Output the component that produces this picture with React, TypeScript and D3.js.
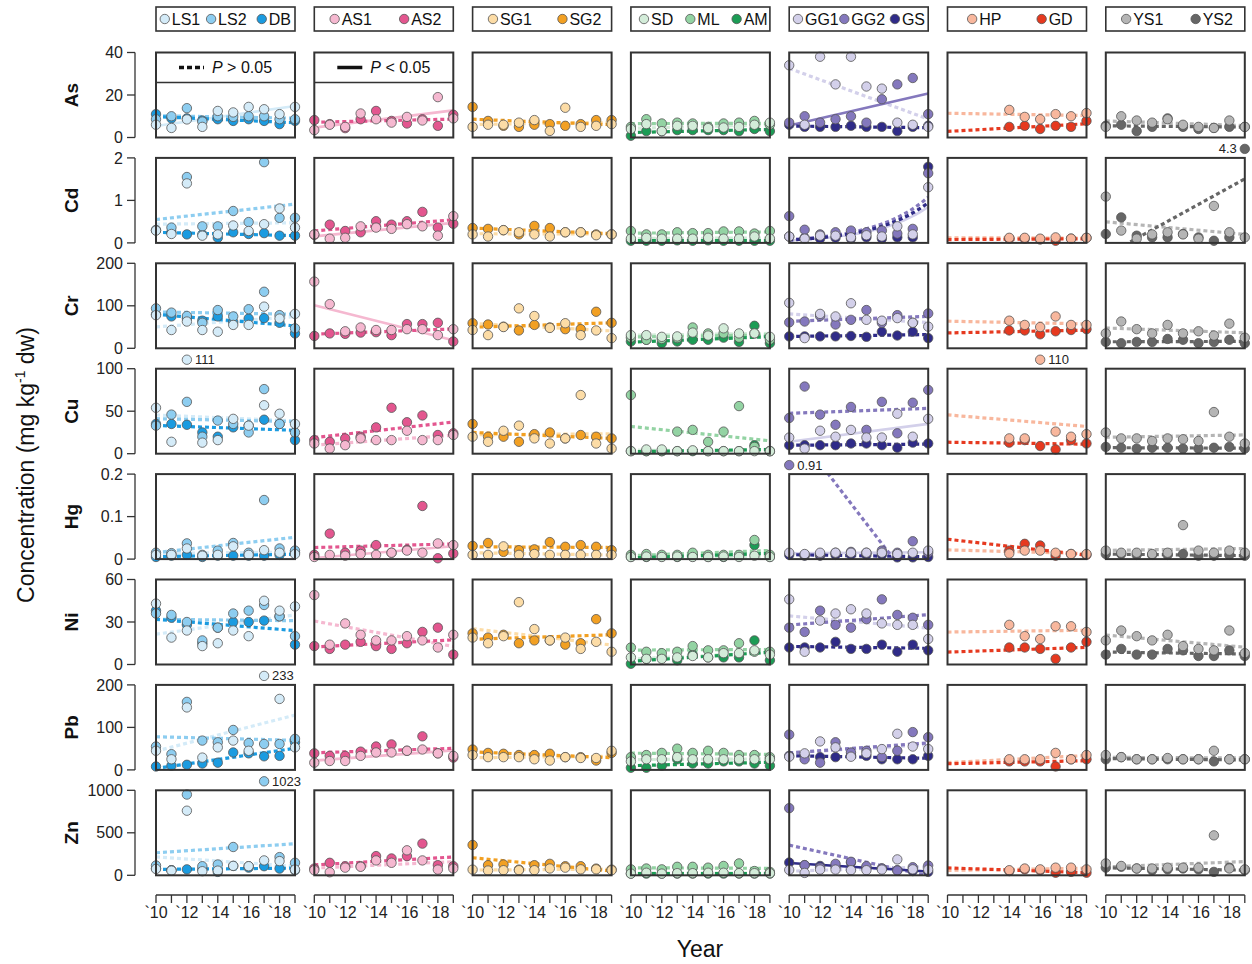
import React from 'react';
import * as d3 from 'd3';

// layout
const PW = 139;
const PH = 85;
const colLeft = (c: number) => 156 + c * 158.3;
const rowTop = (r: number) => 52.5 + r * 105.4;
const FONT = '"Liberation Sans Narrow", "Liberation Sans", Arial, sans-serif';

const years = d3.range(2010, 2020);
const xTickLabels = ['`10', '`12', '`14', '`16', '`18'];

const metals = ['As', 'Cd', 'Cr', 'Cu', 'Hg', 'Ni', 'Pb', 'Zn'];
const yMaxes = [40, 2, 200, 100, 0.2, 60, 200, 1000];
const yTickVals = [
  [0, 20, 40], [0, 1, 2], [0, 100, 200], [0, 50, 100],
  [0, 0.1, 0.2], [0, 30, 60], [0, 100, 200], [0, 500, 1000],
];

const groups = [
  ['LS1', 'LS2', 'DB'],
  ['AS1', 'AS2'],
  ['SG1', 'SG2'],
  ['SD', 'ML', 'AM'],
  ['GG1', 'GG2', 'GS'],
  ['HP', 'GD'],
  ['YS1', 'YS2'],
];

const siteColors: Record<string, string> = {
  LS1: '#d4ebf8', LS2: '#8dcdf0', DB: '#1b9be0',
  AS1: '#f5b8d0', AS2: '#e3568f',
  SG1: '#fcdca6', SG2: '#f2a023',
  SD: '#d3ecd9', ML: '#93d3a3', AM: '#1c9c55',
  GG1: '#d3d0ea', GG2: '#8478bd', GS: '#2f2b88',
  HP: '#f8b79d', GD: '#e6391f',
  YS1: '#b5b5b5', YS2: '#666666',
};

const _ = null;

// concentrations per year 2010..2019 (mg/kg dw)
const dataAs = {
  LS1: [6, 4.5, 8.5, 5, 12.5, 11.8, 14.4, 13.3, 11, 14.4],
  LS2: [8.6, 10, 13.8, 7.5, 10, 9.7, 10, 10, 8.6, 8.6],
  DB: [11, 9, 9, 8, 8.6, 7.8, 8.6, 7.8, 6.3, 7.8],
  AS1: [3.5, 6, 5, 11.3, 8.6, 7, 9.7, 8, 19, 9],
  AS2: [8.2, 6.3, 4.4, 8.6, 12.5, 7.8, 6.6, 8.6, 5.5, 10.7],
  SG1: [5, 6, 6, 7, 8.2, 3.1, 14, 5, 5.5, 6.3],
  SG2: [14.4, 7.8, 5.5, 5, 6, 6.3, 5.5, 6.3, 8.2, 8.2],
  SD: [4, 6.3, 3, 5.5, 5.5, 4.4, 4.7, 5, 6, 7],
  ML: [5, 8.6, 6.6, 7, 6.6, 5, 6.6, 7, 7.8, 6],
  AM: [0.8, 3, 3, 3.5, 3.5, 3.5, 3.5, 3, 4, 3],
  GG1: [34, 6, 38, 25, 38, 24, 23, 7, 6, 5],
  GG2: [7, 10, 7, 8.6, 10, 7, 18, 25, 28, 11],
  GS: [6, 5, 5, 5, 5.5, 5, 5, 3, 5, 5.5],
  HP: [_, _, _, _, 13, 9.7, 8.6, 11, 10, 11.5],
  GD: [_, _, _, _, 5, 5.5, 4, 5.5, 5, 7.8],
  YS1: [5, 10, 8, 7, 8.6, 6, 5, 4.5, 8, 5],
  YS2: [5.5, 6, 3, 5, 9, 5, 4, 4.5, 5, 5],
};

const dataCd = {
  LS1: [0.29, 0.21, 1.4, 0.17, 0.2, 0.41, 0.28, 0.44, 0.81, 0.36],
  LS2: [0.3, 0.36, 1.55, 0.39, 0.39, 0.75, 0.49, 1.9, 0.59, 0.59],
  DB: [0.3, 0.25, 0.2, 0.2, 0.12, 0.25, 0.21, 0.23, 0.17, 0.17],
  AS1: [0.2, 0.1, 0.12, 0.39, 0.36, 0.33, 0.44, 0.39, 0.17, 0.63],
  AS2: [0.19, 0.43, 0.28, 0.25, 0.51, 0.43, 0.51, 0.73, 0.36, 0.45],
  SG1: [0.2, 0.15, 0.3, 0.25, 0.2, 0.15, 0.25, 0.25, 0.18, 0.2],
  SG2: [0.35, 0.33, 0.3, 0.2, 0.4, 0.35, 0.25, 0.25, 0.2, 0.2],
  SD: [0.1, 0.12, 0.1, 0.1, 0.1, 0.12, 0.1, 0.1, 0.15, 0.1],
  ML: [0.28, 0.2, 0.2, 0.25, 0.23, 0.23, 0.27, 0.27, 0.22, 0.28],
  AM: [0.05, 0.05, 0.05, 0.06, 0.05, 0.06, 0.05, 0.05, 0.05, 0.05],
  GG1: [0.15, 0.1, 0.17, 0.17, 0.13, 0.18, 0.15, 0.39, 0.2, 1.31],
  GG2: [0.63, 0.31, 0.2, 0.25, 0.29, 0.25, 0.29, 0.22, 0.33, 1.64],
  GS: [0.15, 0.12, 0.1, 0.12, 0.1, 0.13, 0.1, 0.13, 0.13, 1.79],
  HP: [_, _, _, _, 0.12, 0.12, 0.1, 0.13, 0.1, 0.12],
  GD: [_, _, _, _, 0.1, 0.1, 0.08, 0.05, 0.1, 0.12],
  YS1: [1.09, 0.29, 0.1, 0.2, 0.25, 0.2, 0.1, 0.87, 0.25, 0.13],
  YS2: [0.21, 0.6, 0.17, 0.13, 0.13, 0.21, 0.13, 0.05, 0.13, 4.3],
};

const dataCr = {
  LS1: [78, 43, 63, 43, 39, 55, 55, 98, 70, 81],
  LS2: [94, 84, 76, 60, 90, 75, 92, 133, 78, 47],
  DB: [80, 75, 70, 65, 75, 62, 70, 71, 60, 35],
  AS1: [157, 104, 40, 49, 43, 43, 45, 45, 31, 45],
  AS2: [29, 35, 34, 37, 38, 31, 57, 57, 60, 16],
  SG1: [43, 31, 50, 94, 76, 48, 59, 31, 42, 24],
  SG2: [59, 56, 51, 42, 55, 49, 45, 45, 86, 60],
  SD: [31, 31, 27, 28, 37, 30, 47, 35, 35, 27],
  ML: [25, 20, 22, 24, 49, 35, 35, 25, 35, 20],
  AM: [16, 20, 12, 16, 20, 20, 25, 15, 53, 12],
  GG1: [107, 24, 81, 75, 106, 67, 65, 71, 60, 51],
  GG2: [61, 63, 76, 56, 67, 90, 60, 78, 60, 82],
  GS: [28, 28, 28, 28, 29, 27, 39, 30, 39, 24],
  HP: [_, _, _, _, 65, 55, 50, 75, 55, 55],
  GD: [_, _, _, _, 42, 42, 33, 40, 43, 45],
  YS1: [35, 63, 45, 35, 55, 35, 40, 30, 58, 25],
  YS2: [15, 12, 15, 15, 22, 20, 12, 15, 20, 12],
};

const dataCu = {
  LS1: [54, 14, 111, 13, 16, 41, 33, 57, 47, 35],
  LS2: [33, 46, 61, 20, 39, 35, 25, 76, 35, 25],
  DB: [35, 35, 34, 25, 20, 31, 33, 40, 35, 16],
  AS1: [12, 6, 10, 18, 16, 16, 27, 16, 16, 22],
  AS2: [16, 14, 18, 20, 31, 54, 37, 45, 22, 24],
  SG1: [20, 14, 27, 33, 18, 12, 18, 69, 12, 6],
  SG2: [35, 20, 20, 14, 23, 25, 18, 22, 20, 18],
  SD: [3, 5, 5, 3, 4, 3, 3, 3, 3, 3],
  ML: [69, 3, 3, 26, 28, 14, 26, 56, 8, 3],
  AM: [3, 3, 3, 3, 3, 3, 3, 3, 10, 3],
  GG1: [19, 6, 27, 20, 28, 19, 19, 47, 20, 41],
  GG2: [42, 79, 46, 34, 55, 28, 61, 24, 60, 75],
  GS: [10, 10, 10, 10, 12, 12, 10, 7, 13, 12],
  HP: [_, _, _, _, 18, 18, 110, 26, 20, 23],
  GD: [_, _, _, _, 13, 16, 9, 5, 16, 12],
  YS1: [25, 18, 18, 15, 18, 17, 15, 49, 20, 12],
  YS2: [8, 7, 6, 7, 7, 6, 6, 7, 8, 6],
};

const dataHg = {
  LS1: [0.01, 0.01, 0.025, 0.008, 0.01, 0.03, 0.01, 0.021, 0.015, 0.012],
  LS2: [0.015, 0.014, 0.037, 0.01, 0.02, 0.038, 0.015, 0.139, 0.025, 0.02],
  DB: [0.005, 0.008, 0.01, 0.005, 0.008, 0.008, 0.008, 0.008, 0.01, 0.015],
  AS1: [0.005, 0.01, 0.008, 0.012, 0.01, 0.015, 0.02, 0.015, 0.037, 0.033],
  AS2: [0.01, 0.06, 0.015, 0.02, 0.033, 0.015, 0.022, 0.125, 0.002, 0.013],
  SG1: [0.01, 0.01, 0.03, 0.01, 0.012, 0.01, 0.01, 0.01, 0.01, 0.01],
  SG2: [0.031, 0.038, 0.017, 0.021, 0.023, 0.04, 0.029, 0.033, 0.029, 0.021],
  SD: [0.005, 0.006, 0.005, 0.006, 0.005, 0.005, 0.006, 0.005, 0.008, 0.005],
  ML: [0.01, 0.012, 0.01, 0.01, 0.015, 0.01, 0.01, 0.01, 0.045, 0.01],
  AM: [0.005, 0.005, 0.006, 0.005, 0.006, 0.005, 0.005, 0.006, 0.033, 0.005],
  GG1: [0.015, 0.012, 0.015, 0.015, 0.015, 0.015, 0.015, 0.012, 0.015, 0.02],
  GG2: [0.91, 0.01, 0.012, 0.015, 0.017, 0.015, 0.02, 0.015, 0.042, 0.015],
  GS: [0.01, 0.008, 0.008, 0.01, 0.01, 0.01, 0.01, 0.004, 0.004, 0.005],
  HP: [_, _, _, _, 0.013, 0.02, 0.02, 0.015, 0.012, 0.012],
  GD: [_, _, _, _, 0.02, 0.036, 0.032, 0.008, 0.012, 0.01],
  YS1: [0.02, 0.015, 0.015, 0.012, 0.015, 0.08, 0.02, 0.015, 0.02, 0.015],
  YS2: [0.012, 0.012, 0.01, 0.01, 0.01, 0.012, 0.008, 0.008, 0.01, 0.008],
};

const dataNi = {
  LS1: [43, 19, 24, 13, 15, 24, 20, 45, 38, 41],
  LS2: [36, 35, 30, 17, 26, 36, 38, 42, 34, 20],
  DB: [38, 33, 28, 15, 26, 30, 30, 31, 34, 14],
  AS1: [49, 14, 29, 21, 17, 17, 20, 17, 12, 21],
  AS2: [13, 11, 14, 16, 13, 11, 15, 23, 26, 7],
  SG1: [19, 15, 20, 44, 25, 17, 19, 11, 16, 9],
  SG2: [22, 19, 21, 15, 17, 17, 14, 15, 32, 22],
  SD: [5, 4, 4, 5, 6, 5, 8, 8, 10, 7],
  ML: [12, 9, 8, 9, 13, 10, 10, 15, 9, 9],
  AM: [0.5, 4, 5, 3, 7, 5, 5, 5, 17, 3],
  GG1: [46, 9, 31, 36, 39, 36, 29, 28, 28, 18],
  GG2: [26, 23, 38, 28, 26, 32, 46, 35, 33, 28],
  GS: [12, 12, 12, 16, 11, 11, 14, 9, 14, 10],
  HP: [_, _, _, _, 28, 20, 18, 27, 27, 23],
  GD: [_, _, _, _, 12, 12, 11, 4, 12, 16],
  YS1: [17, 24, 20, 17, 21, 13, 11, 10, 24, 8],
  YS2: [7, 11, 7, 7, 11, 10, 6, 6, 10, 6],
};

const dataPb = {
  LS1: [45, 25, 147, 29, 53, 69, 45, 233, 167, 53],
  LS2: [55, 37, 160, 69, 65, 94, 63, 61, 61, 73],
  DB: [8, 10, 12, 15, 17, 41, 39, 32, 33, 65],
  AS1: [17, 21, 21, 33, 41, 41, 45, 48, 39, 33],
  AS2: [39, 33, 33, 43, 55, 60, 45, 79, 39, 29],
  SG1: [35, 30, 30, 30, 25, 22, 30, 28, 28, 45],
  SG2: [48, 40, 38, 35, 35, 38, 30, 30, 22, 40],
  SD: [20, 25, 25, 30, 25, 25, 25, 25, 25, 25],
  ML: [30, 35, 40, 50, 40, 45, 40, 35, 35, 30],
  AM: [5, 5, 10, 25, 15, 15, 20, 20, 15, 10],
  GG1: [31, 39, 67, 53, 31, 39, 49, 85, 55, 49],
  GG2: [83, 25, 17, 65, 41, 45, 30, 45, 89, 77],
  GS: [33, 35, 30, 30, 35, 33, 25, 25, 25, 33],
  HP: [_, _, _, _, 25, 25, 25, 40, 25, 35],
  GD: [_, _, _, _, 20, 20, 20, 8, 25, 25],
  YS1: [35, 30, 25, 25, 28, 25, 25, 45, 25, 25],
  YS2: [25, 30, 25, 25, 25, 25, 25, 20, 25, 25],
};

const dataZn = {
  LS1: [75, 55, 760, 48, 55, 111, 107, 175, 167, 67],
  LS2: [115, 60, 950, 107, 127, 333, 107, 1023, 214, 147],
  DB: [80, 60, 70, 70, 40, 110, 90, 107, 79, 60],
  AS1: [60, 36, 90, 100, 175, 147, 294, 175, 67, 80],
  AS2: [79, 147, 107, 107, 226, 198, 226, 373, 119, 107],
  SG1: [67, 56, 60, 60, 60, 80, 90, 70, 70, 60],
  SG2: [357, 119, 127, 67, 119, 135, 107, 107, 79, 67],
  SD: [20, 30, 20, 25, 25, 30, 30, 25, 25, 25],
  ML: [70, 80, 70, 100, 100, 90, 110, 140, 50, 40],
  AM: [20, 20, 20, 20, 20, 20, 20, 20, 20, 20],
  GG1: [63, 28, 67, 67, 60, 60, 67, 187, 70, 67],
  GG2: [790, 119, 90, 135, 159, 107, 80, 56, 95, 115],
  GS: [150, 120, 110, 100, 150, 90, 80, 60, 50, 40],
  HP: [_, _, _, _, 60, 80, 70, 90, 90, 70],
  GD: [_, _, _, _, 50, 70, 60, 30, 40, 30],
  YS1: [140, 110, 80, 80, 90, 90, 90, 470, 80, 70],
  YS2: [90, 100, 80, 60, 70, 80, 70, 40, 90, 60],
};

const allData = [dataAs, dataCd, dataCr, dataCu, dataHg, dataNi, dataPb, dataZn];

// trends with P < 0.05 (solid), others dashed
const significant = ['As-LS1', 'As-AS1', 'As-GG2', 'Cd-AS1', 'Cd-GG1', 'Cr-AS1', 'Cu-GG1', 'Hg-AS1', 'Hg-GG1', 'Pb-AS1', 'Zn-GS'];
// trends fitted as exponential curves
const expFits = ['Cd-GG1', 'Cd-GG2', 'Cd-GS'];

type Pt = [number, number];

function linFit(pts: Pt[]) {
  const mx = d3.mean(pts, (p) => p[0])!;
  const my = d3.mean(pts, (p) => p[1])!;
  const sxy = d3.sum(pts, (p) => (p[0] - mx) * (p[1] - my));
  const sxx = d3.sum(pts, (p) => (p[0] - mx) ** 2);
  const b = sxy / sxx;
  return (t: number) => my + b * (t - mx);
}

// y = a * exp(b * (t - 2010)), least squares over a small grid of b
function expFit(pts: Pt[]) {
  let best = { sse: Infinity, a: 0, b: 0 };
  for (let b = -0.3; b <= 0.3; b += 0.005) {
    const e = pts.map((p) => Math.exp(b * (p[0] - 2010)));
    const a = d3.sum(pts, (p, i) => p[1] * e[i]) / d3.sum(e, (v) => v * v);
    const sse = d3.sum(pts, (p, i) => (p[1] - a * e[i]) ** 2);
    if (sse < best.sse) best = { sse, a, b };
  }
  return (t: number) => best.a * Math.exp(best.b * (t - 2010));
}

function Panel({ r, c }: { r: number; c: number }) {
  const metal = metals[r];
  const data = allData[r] as Record<string, (number | null)[]>;
  const x0 = colLeft(c);
  const y0 = rowTop(r);
  const x = d3.scaleLinear().domain([2010, 2019]).range([x0, x0 + PW]);
  const y = d3.scaleLinear().domain([0, yMaxes[r]]).range([y0 + PH, y0]);
  const clipId = `clip-${r}-${c}`;
  const sites = groups[c];
  const trends = sites.map((s) => {
    const pts: Pt[] = [];
    data[s].forEach((v, i) => { if (v != null) pts.push([years[i], v]); });
    const key = `${metal}-${s}`;
    const isExp = expFits.includes(key);
    const f = isExp ? expFit(pts) : linFit(pts);
    const samples = isExp ? d3.range(2010, 2019.01, 0.1) : [2010, 2019];
    const line = d3.line<number>().x((t) => x(t)).y((t) => y(f(t)));
    return { s, d: line(samples)!, solid: significant.includes(key) };
  });
  // darker sites underneath, lighter ones on top
  const drawOrder = [...sites].reverse();
  const outliers: { s: string; year: number; v: number }[] = [];
  const dots = drawOrder.map((s) =>
    data[s].map((v, i) => {
      if (v == null) return null;
      if (v > yMaxes[r]) {
        outliers.push({ s, year: years[i], v });
        return null;
      }
      return (
        <circle key={s + i} cx={x(years[i])} cy={y(v)} r={4.7}
          fill={siteColors[s]} stroke="#555" strokeWidth={0.8} />
      );
    })
  );
  return (
    <g>
      <defs>
        <clipPath id={clipId}>
          <rect x={x0} y={y0} width={PW} height={PH} />
        </clipPath>
      </defs>
      <rect x={x0} y={y0} width={PW} height={PH} fill="#fff" />
      <g clipPath={`url(#${clipId})`}>
        {trends.map((t) => (
          <path key={t.s} d={t.d} fill="none" stroke={siteColors[t.s]}
            strokeWidth={t.solid ? 2.6 : 3.2} strokeDasharray={t.solid ? undefined : '4 3'} />
        ))}
      </g>
      {dots}
      {outliers.map((o) => {
        const cx = x(o.year);
        const cy = y0 - 9;
        const left = o.year === 2019;
        return (
          <g key={o.s + o.year}>
            <circle cx={cx} cy={cy} r={4.7} fill={siteColors[o.s]} stroke="#555" strokeWidth={0.8} />
            <text x={left ? cx - 8 : cx + 8} y={cy} dy="0.35em" fontSize={13}
              textAnchor={left ? 'end' : 'start'} fill="#222">{String(o.v)}</text>
          </g>
        );
      })}
      {r === 0 && c < 2 && (
        <g>
          <line x1={x0} x2={x0 + PW} y1={y0 + 30} y2={y0 + 30} stroke="#333" strokeWidth={1.5} />
          <line x1={x0 + 23} x2={x0 + 48} y1={y0 + 15} y2={y0 + 15} stroke="#111" strokeWidth={3.5}
            strokeDasharray={c === 0 ? '5 3' : undefined} />
          <text x={x0 + 56} y={y0 + 15} dy="0.35em" fontSize={16} fill="#111">
            <tspan fontStyle="italic">P</tspan>{c === 0 ? ' > 0.05' : ' < 0.05'}
          </text>
        </g>
      )}
      <rect x={x0} y={y0} width={PW} height={PH} fill="none" stroke="#333" strokeWidth={2} />
    </g>
  );
}

function Legend({ c }: { c: number }) {
  const x0 = colLeft(c);
  const sites = groups[c];
  const slot = PW / sites.length;
  return (
    <g>
      <rect x={x0} y={7} width={PW} height={24} fill="#fff" stroke="#333" strokeWidth={1.6} />
      {sites.map((s, i) => {
        const w = 11 + s.length * 8.6;
        const cx = x0 + slot * (i + 0.5) - w / 2 + 4;
        return (
          <g key={s}>
            <circle cx={cx} cy={19} r={4.7} fill={siteColors[s]} stroke="#555" strokeWidth={0.8} />
            <text x={cx + 7} y={19} dy="0.35em" fontSize={16} fill="#111">{s}</text>
          </g>
        );
      })}
    </g>
  );
}

function YAxis({ r }: { r: number }) {
  const y0 = rowTop(r);
  const y = d3.scaleLinear().domain([0, yMaxes[r]]).range([y0 + PH, y0]);
  return (
    <g>
      <line x1={135} x2={135} y1={y0} y2={y0 + PH} stroke="#333" strokeWidth={1.3} />
      {yTickVals[r].map((t) => (
        <g key={t}>
          <line x1={127} x2={135} y1={y(t)} y2={y(t)} stroke="#333" strokeWidth={1.3} />
          <text x={123} y={y(t)} dy="0.35em" textAnchor="end" fontSize={16} fill="#222">{String(t)}</text>
        </g>
      ))}
      <text transform={`translate(78,${y0 + PH / 2}) rotate(-90)`} textAnchor="middle"
        fontSize={19} fontWeight="bold" fill="#111">{metals[r]}</text>
    </g>
  );
}

function XAxis({ c }: { c: number }) {
  const x0 = colLeft(c);
  const x = d3.scaleLinear().domain([2010, 2019]).range([x0, x0 + PW]);
  const ay = 895;
  return (
    <g>
      <line x1={x0} x2={x0 + PW} y1={ay} y2={ay} stroke="#333" strokeWidth={1.3} />
      {years.map((t) => (
        <line key={t} x1={x(t)} x2={x(t)} y1={ay} y2={ay + 8} stroke="#333" strokeWidth={1.3} />
      ))}
      {xTickLabels.map((lab, i) => (
        <text key={lab} x={x(2010 + i * 2)} y={ay + 23} textAnchor="middle" fontSize={16} fill="#222">{lab}</text>
      ))}
    </g>
  );
}

export default function App() {
  return (
    <svg width={1252} height={964} style={{ position: 'absolute', left: 0, top: 0, background: '#fff' }}
      fontFamily={FONT}>
      {groups.map((_g, c) => <Legend key={c} c={c} />)}
      {metals.map((_m, r) => <YAxis key={r} r={r} />)}
      {metals.map((_m, r) => groups.map((_g, c) => <Panel key={`${r}-${c}`} r={r} c={c} />))}
      {groups.map((_g, c) => <XAxis key={c} c={c} />)}
      <text transform="translate(34,465) rotate(-90)" textAnchor="middle" fontSize={23} fill="#111">
        Concentration (mg kg<tspan fontSize={14} dy={-9}>-1</tspan><tspan dy={9}> dw)</tspan>
      </text>
      <text x={700} y={957} textAnchor="middle" fontSize={23} fill="#111">Year</text>
    </svg>
  );
}
